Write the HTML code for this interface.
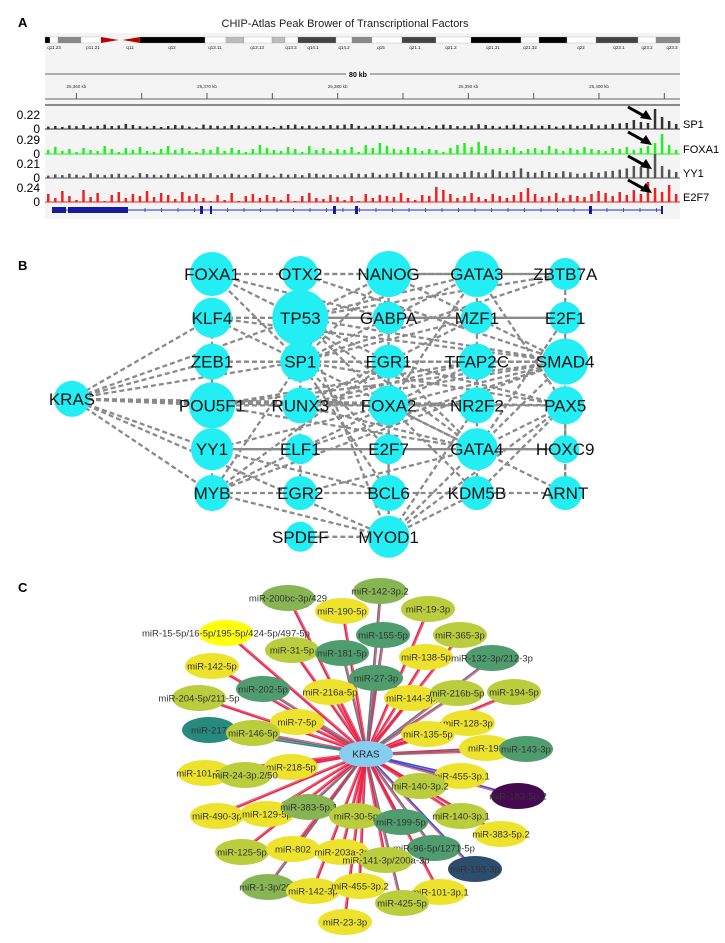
<!DOCTYPE html>
<html><head><meta charset="utf-8"><style>
html,body{margin:0;padding:0;background:#fff;}
svg{display:block;font-family:"Liberation Sans",sans-serif;}
</style></head><body>
<svg id="fig" width="725" height="943" viewBox="0 0 725 943" xmlns="http://www.w3.org/2000/svg">
<rect width="725" height="943" fill="#fff"/>
<text x="18" y="27" font-size="13" font-weight="bold">A</text>
<text x="18" y="270" font-size="13" font-weight="bold">B</text>
<text x="18" y="592" font-size="13" font-weight="bold">C</text>
<g id="pa">
<rect x="45" y="33" width="635" height="186" fill="#f4f4f4"/>
<text x="345" y="27" font-size="11" text-anchor="middle" fill="#222">CHIP-Atlas Peak Brower of Transcriptional Factors</text>
<line x1="45" y1="74" x2="346" y2="74" stroke="#666"/>
<line x1="370" y1="74" x2="680" y2="74" stroke="#666"/>
<text x="358" y="77" font-size="7" font-weight="bold" text-anchor="middle">80 kb</text>
<line x1="45" y1="99" x2="680" y2="99" stroke="#666"/>
<rect x="45" y="104" width="635" height="2" fill="#888"/>
</g>
<g id="pb"></g>
<g id="pc"></g>
</svg>
<script>
const NS='http://www.w3.org/2000/svg';
function mk(p,tag,a){const e=document.createElementNS(NS,tag);for(const k in a)e.setAttribute(k,a[k]);p.appendChild(e);return e;}
const pa=document.getElementById('pa'),pb=document.getElementById('pb'),pc=document.getElementById('pc');

// ---------- Panel A data ----------
const bandStarts=[45,50,58,81,101,140,205,226,244,272,285,298,336,352,372,402,436,471,521,539,567,596,638,656];
const bandColors=['#000','#fff','#888','#fff','#c00','#000','#fff','#bbb','#fff','#bbb','#fff','#444','#fff','#888','#fff','#444','#fff','#000','#fff','#000','#fff','#444','#fff','#888'];
const bandLabels=['q11.23','p11.21','q11','q12','q13.11','q13.13','q13.3','q14.1','q14.2','q15','q21.1','q21.2','q21.31','q21.32','q22','q23.1','q23.2','q23.3'];
const bandLabelX=[54,93,130,172,215,257,291,313,344,381,415,451,493,530,581,619,647,672];
const tickLabels=['25,360 kb','25,370 kb','25,380 kb','25,390 kb','25,400 kb'];
const tickKb=[25360,25370,25380,25390,25400];
const trackNames=['SP1','FOXA1','YY1','E2F7'];
const trackMax=['0.22','0.29','0.21','0.24'];
const sp1Vals=[12,15,10,18,14,20,12,16,22,15,18,25,20,14,12,16,10,15,20,18,12,8,22,18,16,14,20,18,12,15,18,14,10,16,20,22,14,18,12,16,20,18,22,25,16,12,18,20,15,22,18,14,12,16,10,18,22,20,14,16,18,24,20,16,12,18,22,20,14,18,16,20,12,18,22,16,20,24,18,22,25,28,30,45,35,30,100,60,40,25];
const foxa1Vals=[20,35,15,25,10,30,20,15,40,25,10,30,20,35,15,10,25,40,20,30,15,10,25,20,35,15,30,20,10,25,45,30,20,15,35,25,10,40,20,30,15,25,20,35,10,45,30,55,40,25,20,35,30,15,25,20,10,30,45,55,35,60,40,25,30,20,35,15,25,30,20,40,25,15,30,20,35,25,20,15,30,25,35,20,30,40,55,100,45,20];
const yy1Vals=[10,15,12,18,14,10,20,15,12,16,18,14,10,20,16,14,12,18,15,10,14,18,16,20,12,15,18,14,12,16,20,15,10,18,14,16,12,20,18,14,16,12,15,20,18,16,22,14,18,20,25,22,18,20,24,28,22,20,18,25,30,24,20,35,28,22,30,40,26,22,30,25,20,28,24,18,20,26,22,28,30,35,40,50,45,55,100,50,35,25];
const e2f7Vals=[40,20,55,30,10,60,25,45,5,35,50,20,40,30,55,25,45,35,15,50,30,40,20,5,35,10,45,5,30,40,20,35,25,10,40,5,30,45,20,15,35,25,10,30,5,40,20,35,30,25,45,20,10,35,30,75,60,40,20,30,45,25,15,40,30,20,35,50,70,40,25,30,45,20,35,30,25,40,55,45,30,50,35,60,40,100,70,50,85,40];
const trackVals=[sp1Vals,foxa1Vals,yy1Vals,e2f7Vals];
const trackColors=['#333','#22ee22','#555','#ee2222'];
const trackBase=[129,154,178,202];
const trackH=[20,20,24,20];
const exonStarts=[52,68,200,210,333,355,589,661];
const exonEnds=[66,128,203,212,336,358,592,663];

const gx0=45,gx1=680,kb0=25357.6,kb1=25406.2;
const xKb=k=>gx0+(k-kb0)/(kb1-kb0)*(gx1-gx0);

for(let i=0;i<bandStarts.length;i++){
  const x0=bandStarts[i],x1=i+1<bandStarts.length?bandStarts[i+1]:680;
  let r;
  if(bandColors[i]==='#c00'){
    r=mk(pa,'polygon',{points:`${x0},37 ${(x0+x1)/2-2},40 ${(x0+x1)/2+2},40 ${x1},37 ${x1},43 ${(x0+x1)/2+2},40 ${(x0+x1)/2-2},40 ${x0},43`,fill:'#b00'});
  } else {
    r=mk(pa,'rect',{x:x0,y:37,width:x1-x0,height:6,fill:bandColors[i],stroke:'#999','stroke-width':0.3});
  }
  
  
}
bandLabels.forEach((l,i)=>{
  const t=mk(pa,'text',{x:bandLabelX[i],y:49,'font-size':4.5,'text-anchor':'middle',fill:'#222'});t.textContent=l;
  
  
});
tickKb.forEach((k,i)=>{
  const x=xKb(k);
  const t=mk(pa,'text',{x:x,y:88,'font-size':4.5,'text-anchor':'middle',fill:'#333'});t.textContent=tickLabels[i];
  
  
});
for(let k=25360;k<=25405;k+=5){
  const x=xKb(k);
  const l=mk(pa,'line',{x1:x,y1:93,x2:x,y2:99,stroke:'#555'});
  
  
}
trackVals.forEach((vals,ti)=>{
  const n=vals.length,bw=(gx1-gx0)/n;
  vals.forEach((v,j)=>{
    const h=v/100*trackH[ti];
    const r=mk(pa,'rect',{x:gx0+j*bw+2,y:trackBase[ti]-h,width:2.5,height:h,fill:trackColors[ti]});
    
    
  });
  const b=mk(pa,'line',{x1:gx0,y1:trackBase[ti],x2:gx1,y2:trackBase[ti],stroke:trackColors[ti],'stroke-width':1});
  
  
  const m=mk(pa,'text',{x:40,y:trackBase[ti]-10,'font-size':12,'text-anchor':'end'});m.textContent=trackMax[ti];
  
  
  const z=mk(pa,'text',{x:40,y:trackBase[ti]+4,'font-size':12,'text-anchor':'end'});z.textContent='0';
  
  
  const nm=mk(pa,'text',{x:683,y:trackBase[ti]-1,'font-size':11});nm.textContent=trackNames[ti];
  
  
  const ax=652,ay=trackBase[ti]-10;
  const ar=mk(pa,'line',{x1:ax-24,y1:ay-12,x2:ax-6,y2:ay-2,stroke:'#000','stroke-width':3});
  
  
  const ah=mk(pa,'polygon',{points:`${ax},${ay+1} ${ax-12},${ay-1} ${ax-6},${ay-9}`,fill:'#000'});
  
  
});
const gl=mk(pa,'line',{x1:52,y1:210,x2:662,y2:210,stroke:'#2233cc','stroke-width':1});


for(let x=145;x<660;x+=16.5){
  const t=mk(pa,'line',{x1:x,y1:208,x2:x,y2:212,stroke:'#2233cc','stroke-width':0.8});
  
  
}
exonStarts.forEach((s,i)=>{
  const w=exonEnds[i]-s,h=w>10?6:8;
  const r=mk(pa,'rect',{x:s,y:210-h/2,width:w,height:h,fill:'#1a1aa0'});
  
  
});

// ---------- Panel B ----------
const bNames=['FOXA1','OTX2','NANOG','GATA3','ZBTB7A','KLF4','TP53','GABPA','MZF1','E2F1','ZEB1','SP1','EGR1','TFAP2C','SMAD4','POU5F1','RUNX3','FOXA2','NR2F2','PAX5','YY1','ELF1','E2F7','GATA4','HOXC9','MYB','EGR2','BCL6','KDM5B','ARNT','SPDEF','MYOD1','KRAS'];
const bCol=[0,1,2,3,4,0,1,2,3,4,0,1,2,3,4,0,1,2,3,4,0,1,2,3,4,0,1,2,3,4,1,2,-1];
const bRow=[0,0,0,0,0,1,1,1,1,1,2,2,2,2,2,3,3,3,3,3,4,4,4,4,4,5,5,5,5,5,6,6,2.85];
const bSize=[22,18,23,23,16,20,28,16,16,16,18,20,17,18,23,23,18,20,18,19,21,15,15,21,14,18,17,18,17,17,15,21,18];
const bEdges=['KRAS-KLF4','KRAS-ZEB1','KRAS-SP1','KRAS-POU5F1','KRAS-RUNX3','KRAS-FOXA2','KRAS-NR2F2','KRAS-PAX5','KRAS-MYB','KRAS-MYOD1','KRAS-TP53','KRAS-YY1',
'FOXA1-OTX2','OTX2-NANOG','NANOG-GATA3','GATA3-ZBTB7A','KLF4-TP53','TP53-GABPA','GABPA-MZF1','MZF1-E2F1','ZEB1-SP1','SP1-EGR1','EGR1-TFAP2C','TFAP2C-SMAD4','POU5F1-RUNX3','RUNX3-FOXA2','FOXA2-NR2F2','NR2F2-PAX5','YY1-ELF1','ELF1-E2F7','E2F7-GATA4','GATA4-HOXC9','MYB-EGR2','EGR2-BCL6','BCL6-KDM5B','KDM5B-ARNT','SPDEF-MYOD1',
'FOXA1-KLF4','KLF4-ZEB1','ZEB1-POU5F1','POU5F1-YY1','YY1-MYB','OTX2-TP53','TP53-SP1','SP1-RUNX3','NANOG-GABPA','GABPA-EGR1','EGR1-FOXA2','FOXA2-E2F7','E2F7-BCL6','BCL6-MYOD1','GATA3-MZF1','MZF1-TFAP2C','TFAP2C-NR2F2','NR2F2-GATA4','GATA4-KDM5B','ZBTB7A-E2F1','E2F1-SMAD4','SMAD4-PAX5','PAX5-HOXC9','HOXC9-ARNT',
'FOXA1-TP53','FOXA1-GABPA','FOXA1-SP1','OTX2-GATA3','OTX2-SMAD4','NANOG-SMAD4','NANOG-SP1','NANOG-TP53','GATA3-TP53','GATA3-SP1','GATA3-FOXA2','GATA3-PAX5','ZBTB7A-TP53','ZBTB7A-SP1','ZBTB7A-NANOG','KLF4-SP1','KLF4-SMAD4','TP53-SMAD4','TP53-GATA4','TP53-FOXA2','TP53-MYOD1','TP53-EGR1','SP1-GATA4','SP1-SMAD4','SP1-PAX5','SP1-MYB','SP1-EGR2','EGR1-PAX5','EGR1-GATA4','EGR1-MYB','RUNX3-GATA4','RUNX3-SMAD4','FOXA2-GATA4','FOXA2-MYOD1','FOXA2-YY1','FOXA2-SMAD4','NR2F2-MYOD1','GATA4-ARNT','GATA4-MYOD1','GATA4-PAX5','GATA4-YY1','PAX5-MYOD1','PAX5-KDM5B','SMAD4-MYB','SMAD4-GATA4','MYB-MYOD1','YY1-BCL6','ELF1-SMAD4','E2F7-SP1','POU5F1-GATA4','POU5F1-SMAD4','POU5F1-TFAP2C','ZEB1-TFAP2C','ZEB1-SMAD4','EGR2-GATA4','BCL6-SP1','KDM5B-MYOD1','KDM5B-FOXA2','MZF1-SP1','MZF1-RUNX3','TFAP2C-MYB','TFAP2C-RUNX3','E2F1-TP53','E2F1-GATA4','HOXC9-GATA4','ARNT-PAX5'];
const bx=c=>c<0?72:212+c*88.3;
const by=r=>274+r*43.8;
const bIdx={};bNames.forEach((n,i)=>bIdx[n]=i);
bEdges.forEach(e=>{
  const [a,b]=e.split('-').map(n=>bIdx[n]);
  const l=mk(pb,'line',{x1:bx(bCol[a]),y1:by(bRow[a]),x2:bx(bCol[b]),y2:by(bRow[b]),stroke:'#8a8a8a','stroke-width':2.3,'stroke-dasharray':'5,3'});
  
  
});
bNames.forEach((n,i)=>{
  const c=mk(pb,'circle',{cx:bx(bCol[i]),cy:by(bRow[i]),r:bSize[i],fill:'#22eef4'});
  
  
});
bNames.forEach((n,i)=>{
  const t=mk(pb,'text',{x:bx(bCol[i]),y:by(bRow[i])+6,'font-size':17,'text-anchor':'middle',fill:'#111'});t.textContent=n;
  
  
});

// ---------- Panel C ----------
const cLabels=['miR-200bc-3p/429','miR-142-3p.2','miR-190-5p','miR-19-3p','miR-15-5p/16-5p/195-5p/424-5p/497-5p','miR-155-5p','miR-365-3p','miR-31-5p','miR-181-5p','miR-138-5p','miR-132-3p/212-3p','miR-142-5p','miR-27-3p','miR-202-5p','miR-216a-5p','miR-144-3p','miR-216b-5p','miR-194-5p','miR-204-5p/211-5p','miR-7-5p','miR-217','miR-146-5p','miR-128-3p','miR-135-5p','miR-193','miR-143-3p','miR-218-5p','miR-101-3p.2','miR-24-3p.2/50','miR-455-3p.1','miR-140-3p.2','miR-183-5p.2','miR-490-3p','miR-129-5p','miR-383-5p.1','miR-30-5p','miR-199-5p','miR-140-3p.1','miR-383-5p.2','miR-125-5p','miR-802','miR-203a-3p','miR-96-5p/1271-5p','miR-141-3p/200a-3p','miR-193-3p','miR-1-3p/206','miR-142-3p','miR-455-3p.2','miR-101-3p.1','miR-425-5p','miR-23-3p'];
const cX=[288,380,342,428,226,383,460,292,342,426,492,212,376,263,330,411,457,514,199,297,209,253,468,428,486,526,291,205,245,461,420,518,217,267,309,356,401,461,501,242,293,342,434,386,475,268,313,360,440,402,345];
const cY=[598,591,611,609,633,635,635,650,653,657,658,666,678,689,692,698,693,692,698,722,730,733,723,734,748,749,767,773,775,776,786,796,816,814,807,816,822,816,834,852,849,852,848,860,869,887,891,886,892,903,922];
const cType=[2,2,0,1,4,3,1,1,3,0,3,0,3,3,0,0,1,1,1,0,5,1,0,0,0,3,0,0,1,0,1,7,0,0,2,1,3,1,0,1,0,0,3,1,6,2,0,0,0,1,0];
const cEdge=[0,1,0,0,0,1,0,0,1,0,1,0,1,1,0,0,1,0,0,0,2,2,0,0,0,1,0,0,0,3,0,3,0,0,1,0,1,0,0,0,0,0,1,0,3,1,0,0,0,1,0];
const typeFill=['#ede22c','#bacd3c','#88b553','#4f9d6e','#ffff10','#268a7e','#2c4d6d','#45094f'];
const edgeCol=['#e8244a','#677585','#2d8a86','#3355dd'];
const kx=366,ky=754;
cLabels.forEach((l,i)=>{
  const col=edgeCol[cEdge[i]];
  const dx=cX[i]-kx,dy=cY[i]-ky,len=Math.hypot(dx,dy)||1,ox=-dy/len*1.5,oy=dx/len*1.5;
  const e=mk(pc,'line',{x1:kx,y1:ky,x2:cX[i],y2:cY[i],stroke:col,'stroke-width':1.6});
  
  
  const e2=mk(pc,'line',{x1:kx+ox,y1:ky+oy,x2:cX[i]+ox,y2:cY[i]+oy,stroke:'#e8244a','stroke-width':1.2,opacity:0.8});
  
  
});
cLabels.forEach((l,i)=>{
  const n=mk(pc,'ellipse',{cx:cX[i],cy:cY[i],rx:27,ry:13,fill:typeFill[cType[i]]});
  
  
  const t=mk(pc,'text',{x:cX[i],y:cY[i]+3.5,'font-size':9.5,'text-anchor':'middle',fill:'#333'});t.textContent=l;
  
  
});
const kn=mk(pc,'ellipse',{cx:kx,cy:ky,rx:27,ry:13,fill:'#87cdee'});


const kt=mk(pc,'text',{x:kx,y:ky+3.5,'font-size':10,'text-anchor':'middle',fill:'#223'});kt.textContent='KRAS';


</script>
</body></html>
